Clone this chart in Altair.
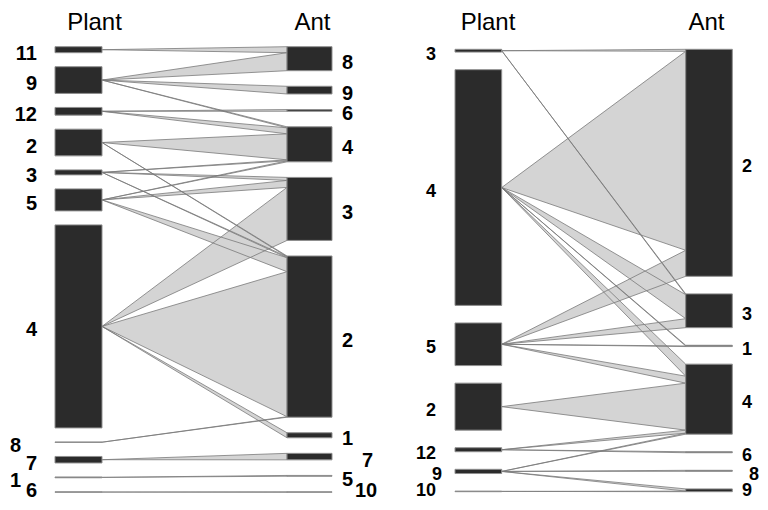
import altair as alt
import pandas as pd

# ---------------- data ----------------
# Left network
plants_L = ["11", "9", "12", "2", "3", "5", "4", "8", "7", "1", "6"]
ants_L = ["8", "9", "6", "4", "3", "2", "1", "7", "5", "10"]
link_plant_L = ["11", "9", "9", "9", "12", "12", "2", "2", "3", "3", "3", "5", "5", "5", "4", "4", "4", "8", "7", "1", "6"]
link_ant_L   = ["8",  "8", "9", "4", "6",  "4",  "4", "2", "4", "3", "2", "4", "3", "2", "3", "2", "1", "2", "7", "5", "10"]
link_w_L     = [6,    18,  7.7, 1,   1.7,  6,    26,  0.7, 1,   3,   1,   1,   7,   14,  53,  145, 5,   0.5, 6.5, 0.8, 0.5]

# Right network
plants_R = ["3", "4", "5", "2", "12", "9", "10"]
ants_R = ["2", "3", "1", "4", "6", "8", "9"]
link_plant_R = ["3", "3", "4", "4", "4", "4", "5", "5", "5", "5", "2", "12", "12", "9", "9", "9", "10"]
link_ant_R   = ["2", "3", "2", "3", "1", "4", "2", "3", "1", "4", "4", "4",  "6",  "4", "8", "9", "9"]
link_w_R     = [2,   0.8, 199, 24,  0.7, 12,  26,  9,   0.6, 7,   47,  3,    1,    1,   1,   2.2, 0.6]

# ---------------- layout (page pixels) ----------------
PANELS = [
    dict(plants=plants_L, ants=ants_L, lp=link_plant_L, la=link_ant_L, lw=link_w_L,
         px=(55, 102), ax=(287, 332), top=46.7, bottom=492.3, k=1.0,
         plab_x=37, alab_x=342, fs=20, p_stagger={"8": -16, "1": -16}, a_stagger={"7": 20, "10": 13},
         title_p=94.5, title_a=312.5),
    dict(plants=plants_R, ants=ants_R, lp=link_plant_R, la=link_ant_R, lw=link_w_R,
         px=(455, 501.7), ax=(685.7, 732.3), top=49.3, bottom=491.7, k=1.0,
         plab_x=436, alab_x=742, fs=18, p_stagger={"9": 6}, a_stagger={"8": 7},
         title_p=488, title_a=706.5),
]
LABEL_DY = 4
LABEL_YMAX = 491
TITLE_BASE = 30

boxes, links, labels_r, labels_l, titles = [], [], [], [], []
lid = 0
for pi, P in enumerate(PANELS):
    k = P["k"]
    ptot = {n: 0.0 for n in P["plants"]}
    atot = {n: 0.0 for n in P["ants"]}
    for p, a, w in zip(P["lp"], P["la"], P["lw"]):
        ptot[p] += w
        atot[a] += w

    def column(names, tot):
        span = P["bottom"] - P["top"]
        gap = (span - k * sum(tot[n] for n in names)) / (len(names) - 1)
        pos, y = {}, P["top"]
        for n in names:
            h = k * tot[n]
            pos[n] = (y, y + h)
            y += h + gap
        return pos

    ppos = column(P["plants"], ptot)
    apos = column(P["ants"], atot)

    for n, (y0, y1) in ppos.items():
        boxes.append(dict(x=P["px"][0], x2=P["px"][1], y=y0, y2=y1))
        labels_r.append(dict(x=P["plab_x"] + P["p_stagger"].get(n, 0),
                             y=min((y0 + y1) / 2 + LABEL_DY, LABEL_YMAX), t=n, fs=P["fs"]))
    for n, (y0, y1) in apos.items():
        boxes.append(dict(x=P["ax"][0], x2=P["ax"][1], y=y0, y2=y1))
        labels_l.append(dict(x=P["alab_x"] + P["a_stagger"].get(n, 0),
                             y=min((y0 + y1) / 2 + LABEL_DY, LABEL_YMAX), t=n, fs=P["fs"]))

    # links: apex at plant box centre, base stacked on ant box in plant order
    cursor = {n: apos[n][0] for n in P["ants"]}
    order = sorted(range(len(P["lw"])), key=lambda i: P["plants"].index(P["lp"][i]))
    for i in order:
        p, a, w = P["lp"][i], P["la"][i], P["lw"][i]
        yc = sum(ppos[p]) / 2
        y0 = cursor[a]
        y1 = y0 + k * w
        cursor[a] = y1
        links.append(dict(id=lid, x=P["px"][1], y=yc, y2=yc))
        links.append(dict(id=lid, x=P["ax"][0], y=y0, y2=y1))
        lid += 1

    titles.append(dict(x=P["title_p"], y=TITLE_BASE, t="Plant"))
    titles.append(dict(x=P["title_a"], y=TITLE_BASE, t="Ant"))

W, H = 752, 494
xs = alt.Scale(domain=[8, 8 + W], nice=False, zero=False)
ys = alt.Scale(domain=[8, 8 + H], nice=False, zero=False, reverse=True)

dl = pd.DataFrame(links)
db = pd.DataFrame(boxes)

link_fill = alt.Chart(dl).mark_area(orient="vertical", fill="#d4d4d4", strokeWidth=0, opacity=1).encode(
    x=alt.X("x:Q", scale=xs, axis=None),
    y=alt.Y("y:Q", scale=ys, axis=None, stack=False),
    y2="y2:Q",
    detail="id:N",
)
link_edge = alt.Chart(dl).mark_area(orient="vertical", fillOpacity=0, stroke="#7a7a7a", strokeWidth=0.8).encode(
    x=alt.X("x:Q", scale=xs, axis=None),
    y=alt.Y("y:Q", scale=ys, axis=None, stack=False),
    y2="y2:Q",
    detail="id:N",
)
box = alt.Chart(db).mark_rect(fill="#2b2b2b", stroke="#8f8f8f", strokeWidth=1).encode(
    x=alt.X("x:Q", scale=xs, axis=None), x2="x2:Q",
    y=alt.Y("y:Q", scale=ys, axis=None), y2="y2:Q",
)
lab_r = alt.Chart(pd.DataFrame(labels_r)).mark_text(
    align="right", baseline="middle", font="Liberation Sans", fontWeight="bold", color="#000"
).encode(
    x=alt.X("x:Q", scale=xs, axis=None), y=alt.Y("y:Q", scale=ys, axis=None),
    text="t:N", size=alt.Size("fs:Q", scale=None),
)
lab_l = alt.Chart(pd.DataFrame(labels_l)).mark_text(
    align="left", baseline="middle", font="Liberation Sans", fontWeight="bold", color="#000"
).encode(
    x=alt.X("x:Q", scale=xs, axis=None), y=alt.Y("y:Q", scale=ys, axis=None),
    text="t:N", size=alt.Size("fs:Q", scale=None),
)
ttl = alt.Chart(pd.DataFrame(titles)).mark_text(
    align="center", baseline="alphabetic", font="Liberation Sans", fontSize=24, color="#000"
).encode(
    x=alt.X("x:Q", scale=xs, axis=None), y=alt.Y("y:Q", scale=ys, axis=None), text="t:N",
)

chart = alt.layer(link_fill, link_edge, box, lab_r, lab_l, ttl).properties(
    width=W, height=H, padding=0, autosize=alt.AutoSizeParams(type="none"),
    background="white",
).configure_view(stroke=None)

chart.save("out.html", embed_options={"renderer": "svg", "actions": False})
